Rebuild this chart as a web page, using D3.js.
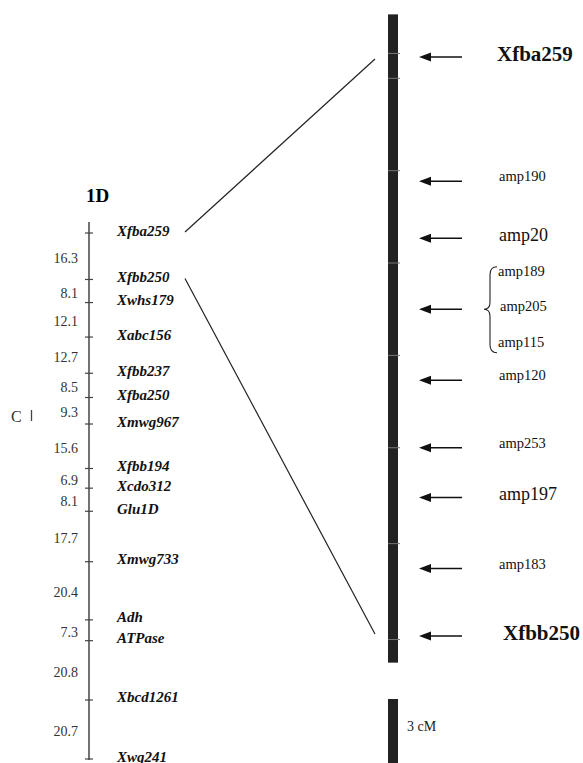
<!DOCTYPE html>
<html>
<head>
<meta charset="utf-8">
<script src="https://cdn.jsdelivr.net/npm/d3@7"></script>
<style>
  body { margin: 0; background: #fff; }
  svg { display: block; font-family: "Liberation Serif", "Times New Roman", serif; }
</style>
</head>
<body>
<div id="chart"></div>
<script>
// genetic map of 1D (left), marker names top to bottom
const leftMarkers = ["Xfba259", "Xfbb250", "Xwhs179", "Xabc156", "Xfbb237", "Xfba250", "Xmwg967",
  "Xfbb194", "Xcdo312", "Glu1D", "Xmwg733", "Adh", "ATPase", "Xbcd1261", "Xwg241"];
// distances between neighbouring markers (cM)
const leftIntervals = [16.3, 8.1, 12.1, 12.7, 8.5, 9.3, 15.6, 6.9, 8.1, 17.7, 20.4, 7.3, 20.8, 20.7];

// expanded Xfba259 - Xfbb250 interval (right), positions in cM from Xfba259
const rightMarkers = ["Xfba259", "amp190", "amp20", "amp205", "amp120", "amp253", "amp197", "amp183", "Xfbb250"];
const rightPositions = [0, 3.5, 5.1, 7.1, 9.1, 11.0, 12.4, 14.4, 16.3];
const binEdges = [-0.1, 0.6, 3.2, 5.8, 8.4, 11.0, 13.7, 16.4];
const barExtent = [-1.2, 17.05];
const bracketGroup = ["amp189", "amp205", "amp115"];
const scaleBarCM = 3;

const width = 583, height = 763;

const svg = d3.select("#chart").append("svg")
    .attr("width", width)
    .attr("height", height);

// cumulative positions of the left markers
let cum = [0];
leftIntervals.forEach((d, i) => cum.push(cum[i] + d));

const yL = d3.scaleLinear().domain([0, d3.sum(leftIntervals)]).range([233, 759]);
const yR = d3.scaleLinear().domain([0, 16.3]).range([57, 636]);

const lx = 89;

// ---- left chromosome
svg.append("text")
    .attr("x", 86).attr("y", 195)
    .attr("dominant-baseline", "central")
    .style("font-weight", "bold").style("font-size", "19px")
    .text("1D");

svg.append("line")
    .attr("x1", lx).attr("x2", lx)
    .attr("y1", yL(0) - 11).attr("y2", yL(cum[cum.length - 1]) + 1)
    .attr("stroke", "#444").attr("stroke-width", 1.5);

svg.selectAll(".ltick")
    .data(cum)
  .enter().append("line")
    .attr("class", "ltick")
    .attr("x1", lx - 4).attr("x2", lx + 4)
    .attr("y1", d => yL(d)).attr("y2", d => yL(d))
    .attr("stroke", "#444").attr("stroke-width", 1.2);

svg.selectAll(".mname")
    .data(leftMarkers)
  .enter().append("text")
    .attr("class", "mname")
    .attr("x", 117)
    .attr("y", (d, i) => yL(cum[i]) - 2.5)
    .attr("dominant-baseline", "central")
    .style("font-weight", "bold").style("font-style", "italic").style("font-size", "15px")
    .attr("fill", "#111")
    .text(d => d);

svg.selectAll(".dist")
    .data(leftIntervals)
  .enter().append("text")
    .attr("class", "dist")
    .attr("x", 78)
    .attr("y", (d, i) => (yL(cum[i]) + yL(cum[i + 1])) / 2 + 2)
    .attr("text-anchor", "end")
    .attr("dominant-baseline", "central")
    .style("font-size", "14px")
    .attr("fill", "#333")
    .text(d => d.toFixed(1));

// centromere mark
svg.append("text")
    .attr("x", 11).attr("y", 416)
    .attr("dominant-baseline", "central")
    .style("font-size", "16px").attr("fill", "#333")
    .text("C");
svg.append("line")
    .attr("x1", 31.5).attr("x2", 31.5).attr("y1", 410).attr("y2", 421)
    .attr("stroke", "#444").attr("stroke-width", 1.3);

// ---- connector lines between the two maps
const links = rightMarkers.filter(d => leftMarkers.includes(d));
svg.selectAll(".link")
    .data(links)
  .enter().append("line")
    .attr("class", "link")
    .attr("x1", 185).attr("y1", d => yL(cum[leftMarkers.indexOf(d)]) - 1)
    .attr("x2", 375).attr("y2", d => yR(rightPositions[rightMarkers.indexOf(d)]) + (d === links[0] ? 2 : -2))
    .attr("stroke", "#222").attr("stroke-width", 1.2);

// ---- right expanded bar
const bx = 388, bw = 10;
svg.append("rect")
    .attr("x", bx).attr("width", bw)
    .attr("y", yR(barExtent[0]))
    .attr("height", yR(barExtent[1]) - yR(barExtent[0]))
    .attr("fill", "#222");

svg.selectAll(".rtick")
    .data(binEdges)
  .enter().append("line")
    .attr("class", "rtick")
    .attr("x1", bx).attr("x2", bx + bw + 2)
    .attr("y1", d => yR(d)).attr("y2", d => yR(d))
    .attr("stroke", "#777").attr("stroke-width", 1);

// arrows
const arrows = svg.selectAll(".arrow")
    .data(rightPositions)
  .enter().append("g")
    .attr("class", "arrow")
    .attr("transform", d => "translate(0," + yR(d) + ")");
arrows.append("line")
    .attr("x1", 428).attr("x2", 462).attr("y1", 0).attr("y2", 0)
    .attr("stroke", "#111").attr("stroke-width", 1.5);
arrows.append("path")
    .attr("d", "M419,0 L431,-4.5 L431,4.5 Z")
    .attr("fill", "#111");

// labels
const bigLarge = ["amp20", "amp197"];
const isFlank = d => leftMarkers.includes(d);
svg.selectAll(".rname")
    .data(rightMarkers.filter(d => d !== bracketGroup[1]))
  .enter().append("text")
    .attr("class", "rname")
    .attr("x", d => isFlank(d) ? (d === links[0] ? 497 : 503) : 499)
    .attr("y", d => yR(rightPositions[rightMarkers.indexOf(d)]) - (isFlank(d) ? 3 : (bigLarge.includes(d) ? 3 : 5)))
    .attr("dominant-baseline", "central")
    .style("font-weight", d => isFlank(d) ? "bold" : "normal")
    .style("font-size", d => isFlank(d) ? "21px" : (bigLarge.includes(d) ? "18px" : "14.5px"))
    .attr("fill", "#111")
    .text(d => d);

// bracketed group sharing one position
const gy = yR(rightPositions[rightMarkers.indexOf(bracketGroup[1])]) - 3;
const gStep = 35.5;
svg.selectAll(".gname")
    .data(bracketGroup)
  .enter().append("text")
    .attr("class", "gname")
    .attr("x", (d, i) => i === 1 ? 500 : 498)
    .attr("y", (d, i) => gy + (i - 1) * gStep)
    .attr("dominant-baseline", "central")
    .style("font-size", "14.5px").attr("fill", "#111")
    .text(d => d);

const bt = gy - gStep - 4, bb = gy + gStep + 11, bm = gy + 3;
svg.append("path")
    .attr("d", `M497,${bt} Q490,${bt} 490,${bt + 8} L490,${bm - 7} Q490,${bm} 484,${bm} Q490,${bm} 490,${bm + 7} L490,${bb - 8} Q490,${bb} 497,${bb}`)
    .attr("fill", "none").attr("stroke", "#222").attr("stroke-width", 1.1);

// scale bar
const sTop = 699;
svg.append("rect")
    .attr("x", bx).attr("width", bw)
    .attr("y", sTop)
    .attr("height", yR(scaleBarCM) - yR(0))
    .attr("fill", "#222");
svg.append("text")
    .attr("x", 407).attr("y", 726)
    .attr("dominant-baseline", "central")
    .style("font-size", "14px").attr("fill", "#222")
    .text(scaleBarCM + " cM");
</script>
</body>
</html>
